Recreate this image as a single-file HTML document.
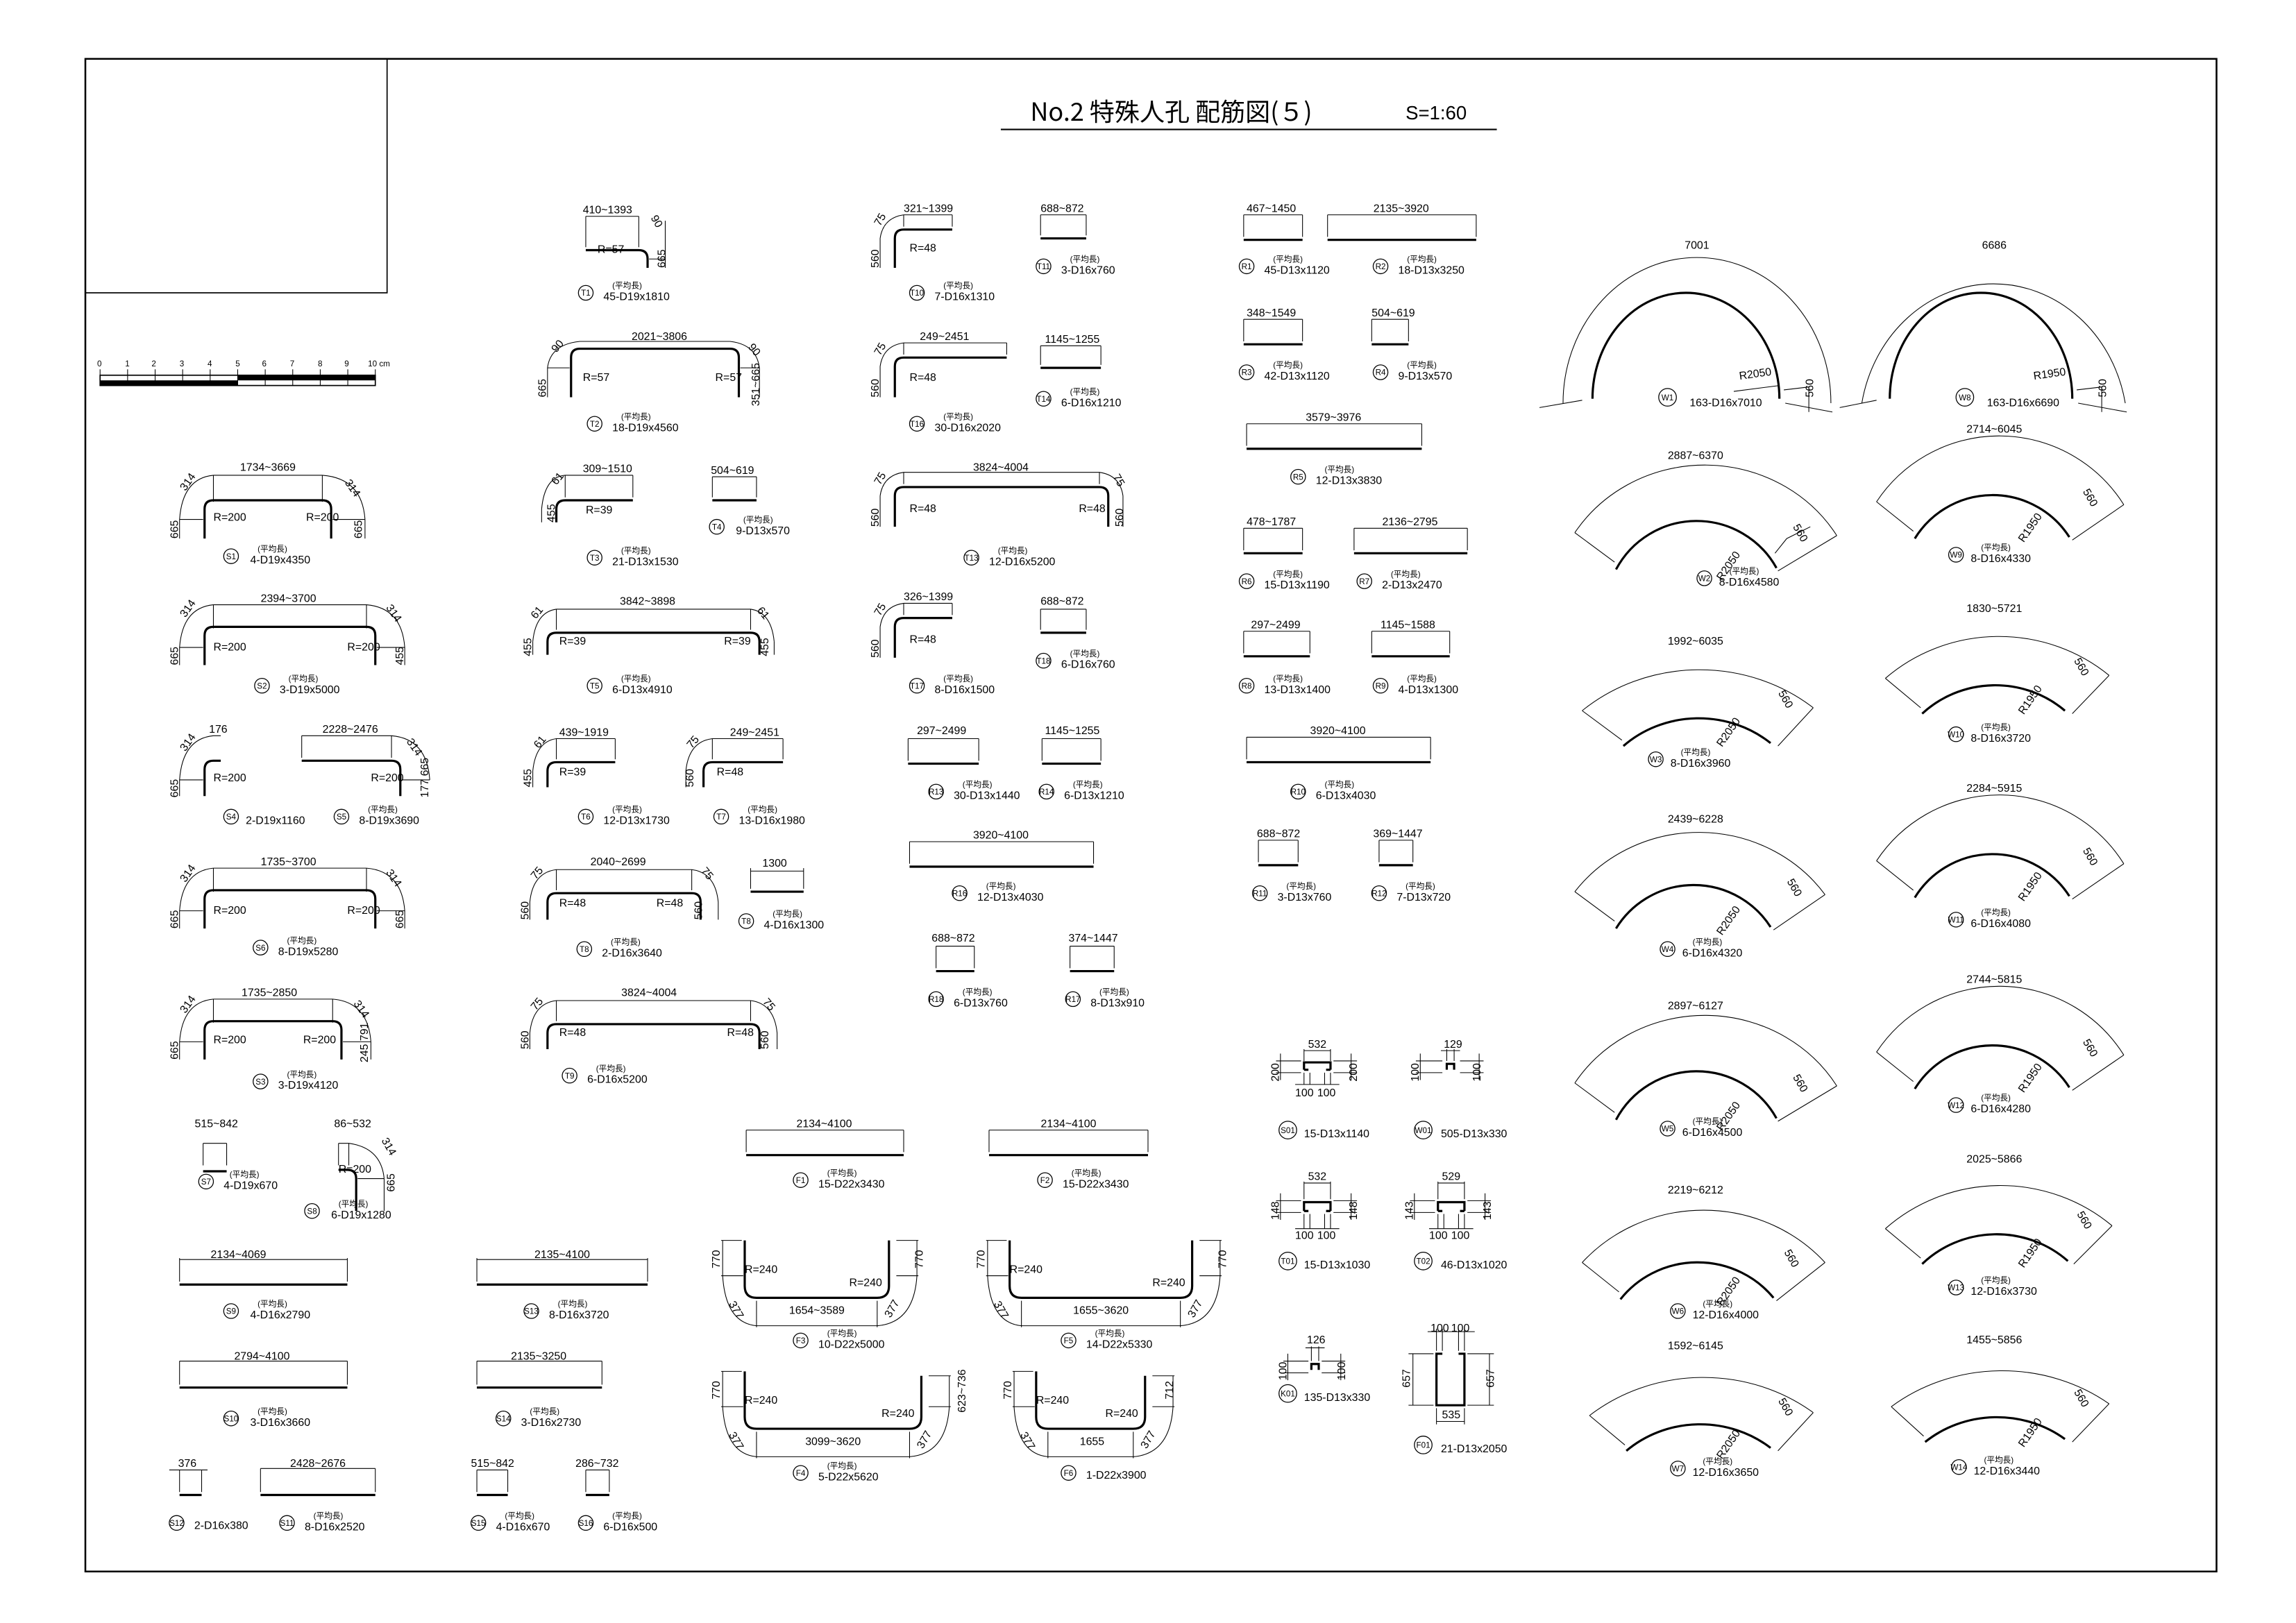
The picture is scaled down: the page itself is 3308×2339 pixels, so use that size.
<!DOCTYPE html>
<html><head><meta charset="utf-8">
<style>
html,body{margin:0;padding:0;background:#fff}
svg{display:block}
.b{fill:none;stroke:#000;stroke-width:1.5}
.d{fill:none;stroke:#000;stroke-width:0.5}
text{font-family:"Liberation Sans Narrow","Liberation Sans","Noto Sans CJK JP",sans-serif;font-size:7.5px;fill:#000}
.s{font-size:5.5px}
.m{font-size:5.5px;text-anchor:middle}
.c{text-anchor:middle}
</style></head><body>
<svg width="3308" height="2339" viewBox="0 0 1560 1103" preserveAspectRatio="none" xmlns="http://www.w3.org/2000/svg">
<rect x="0" y="0" width="1560" height="1103" fill="#fff"/>
<rect x="58" y="40" width="1448" height="1028" fill="none" stroke="#000" stroke-width="1.2"/>
<rect x="58" y="40" width="205" height="159" fill="none" stroke="#000" stroke-width="0.8"/>
<text x="700" y="82" style="font-size:17px;font-family:'Liberation Sans Narrow','Noto Sans CJK JP',sans-serif">No.2 特殊人孔 配筋図(５)</text>
<text x="955" y="81" style="font-size:13px">S=1:60</text>
<line x1="680" y1="88" x2="1017" y2="88" stroke="#000" stroke-width="1"/>
<g>
<rect x="68" y="255" width="187" height="7" fill="none" stroke="#000" stroke-width="0.8"/>
<rect x="68" y="258.5" width="93.5" height="3.5" fill="#000"/>
<rect x="161.5" y="255" width="93.5" height="3.5" fill="#000"/>
<path class="d" d="M68,251V262M86.7,251V262M105.4,251V262M124.1,251V262M142.8,251V262M161.5,251V262M180.2,251V262M198.9,251V262M217.6,251V262M236.3,251V262M255,251V262"/>
<text class="s" x="66" y="249">0</text><text class="s" x="85" y="249">1</text><text class="s" x="103" y="249">2</text><text class="s" x="122" y="249">3</text><text class="s" x="141" y="249">4</text><text class="s" x="160" y="249">5</text><text class="s" x="178" y="249">6</text><text class="s" x="197" y="249">7</text><text class="s" x="216" y="249">8</text><text class="s" x="234" y="249">9</text><text class="s" x="250" y="249">10 cm</text>
</g>

<g>
<path class="b" d="M139,366V346Q139,340 145,340H219Q225,340 225,346V366"/>
<path class="d" d="M145,323H219M145,323V341M219,323V341M122,353H138M122,366V353M226,353H248M248,353V366M122,353Q124,325 145,323M219,323Q246,325 248,353"/>
<text class="c" x="182" y="320">1734~3669</text>
<text x="126" y="334" transform="rotate(-55 126 334)">314</text>
<text x="234" y="328" transform="rotate(55 234 328)">314</text>
<text x="121" y="366" transform="rotate(-90 121 366)">665</text>
<text x="246" y="366" transform="rotate(-90 246 366)">665</text>
<text x="145" y="354">R=200</text><text x="208" y="354">R=200</text>
<circle cx="157" cy="378" r="5" fill="none" stroke="#000" stroke-width="0.6"/><text class="m" x="157" y="380">S1</text>
<text class="s" x="175" y="375">(平均長)</text><text x="170" y="383">4-D19x4350</text>

<path class="b" d="M139,452V432Q139,426 145,426H249Q255,426 255,432V452"/>
<path class="d" d="M145,411H249M145,411V427M249,411V427M122,440H138M122,452V440M256,440H275M275,440V452M122,440Q124,413 145,411M249,411Q273,413 275,440"/>
<text class="c" x="196" y="409">2394~3700</text>
<text x="126" y="420" transform="rotate(-55 126 420)">314</text>
<text x="262" y="413" transform="rotate(55 262 413)">314</text>
<text x="121" y="452" transform="rotate(-90 121 452)">665</text>
<text x="274" y="452" transform="rotate(-90 274 452)">455</text>
<text x="145" y="442">R=200</text><text x="236" y="442">R=200</text>
<circle cx="178" cy="466" r="5" fill="none" stroke="#000" stroke-width="0.6"/><text class="m" x="178" y="468">S2</text>
<text class="s" x="196" y="463">(平均長)</text><text x="190" y="471">3-D19x5000</text>

<path class="b" d="M139,541V523Q139,517 145,517H150"/>
<path class="d" d="M145,500H150M122,530H138M122,541V530M122,530Q124,502 145,500"/>
<text x="142" y="498">176</text>
<text x="126" y="511" transform="rotate(-55 126 511)">314</text>
<text x="121" y="542" transform="rotate(-90 121 542)">665</text>
<text x="145" y="531">R=200</text>
<circle cx="157" cy="555" r="5" fill="none" stroke="#000" stroke-width="0.6"/><text class="m" x="157" y="557">S4</text>
<text x="167" y="560">2-D19x1160</text>
<path class="b" d="M205,517H266Q272,517 272,523V541"/>
<path class="d" d="M205,500H266M205,500V515M266,500V515M273,530H292M266,500Q290,502 292,530"/>
<text class="c" x="238" y="498">2228~2476</text>
<text x="276" y="504" transform="rotate(55 276 504)">314</text>
<text x="291" y="542" transform="rotate(-90 291 542)">177 665</text>
<text x="252" y="531">R=200</text>
<circle cx="232" cy="555" r="5" fill="none" stroke="#000" stroke-width="0.6"/><text class="m" x="232" y="557">S5</text>
<text class="s" x="250" y="552">(平均長)</text><text x="244" y="560">8-D19x3690</text>

<path class="b" d="M139,631V611Q139,605 145,605H249Q255,605 255,611V631"/>
<path class="d" d="M145,590H249M145,590V606M249,590V606M122,619H138M122,631V619M256,619H275M275,619V631M122,619Q124,592 145,590M249,590Q273,592 275,619"/>
<text class="c" x="196" y="588">1735~3700</text>
<text x="126" y="600" transform="rotate(-55 126 600)">314</text>
<text x="262" y="593" transform="rotate(55 262 593)">314</text>
<text x="121" y="631" transform="rotate(-90 121 631)">665</text>
<text x="274" y="631" transform="rotate(-90 274 631)">665</text>
<text x="145" y="621">R=200</text><text x="236" y="621">R=200</text>
<circle cx="177" cy="644" r="5" fill="none" stroke="#000" stroke-width="0.6"/><text class="m" x="177" y="646">S6</text>
<text class="s" x="195" y="641">(平均長)</text><text x="189" y="649">8-D19x5280</text>

<path class="b" d="M139,720V700Q139,694 145,694H226Q232,694 232,700V720"/>
<path class="d" d="M145,679H226M145,679V695M226,679V695M122,708H138M122,720V708M233,708H252M252,708V720M122,708Q124,681 145,679M226,679Q250,681 252,708"/>
<text class="c" x="183" y="677">1735~2850</text>
<text x="126" y="689" transform="rotate(-55 126 689)">314</text>
<text x="240" y="682" transform="rotate(55 240 682)">314</text>
<text x="121" y="720" transform="rotate(-90 121 720)">665</text>
<text x="250" y="722" transform="rotate(-90 250 722)">245 791</text>
<text x="145" y="709">R=200</text><text x="206" y="709">R=200</text>
<circle cx="177" cy="735" r="5" fill="none" stroke="#000" stroke-width="0.6"/><text class="m" x="177" y="737">S3</text>
<text class="s" x="195" y="732">(平均長)</text><text x="189" y="740">3-D19x4120</text>

<path class="b" d="M138,796H154"/>
<path class="d" d="M138,777H154M138,777V792M154,777V792"/>
<text class="c" x="147" y="766">515~842</text>
<circle cx="140" cy="803" r="5" fill="none" stroke="#000" stroke-width="0.6"/><text class="m" x="140" y="805">S7</text>
<text class="s" x="156" y="800">(平均長)</text><text x="152" y="808">4-D19x670</text>
<path class="b" d="M230,795H236Q242,795 242,801V823"/>
<path class="d" d="M230,777H237M230,777V792M237,777V792M243,801H261M261,801V823M237,777Q259,780 261,801"/>
<text x="227" y="766">86~532</text>
<text x="259" y="775" transform="rotate(60 259 775)">314</text>
<text x="268" y="810" transform="rotate(-90 268 810)">665</text>
<text x="230" y="797">R=200</text>
<circle cx="212" cy="823" r="5" fill="none" stroke="#000" stroke-width="0.6"/><text class="m" x="212" y="825">S8</text>
<text class="s" x="230" y="820">(平均長)</text><text x="225" y="828">6-D19x1280</text>

<path class="b" d="M122,873H236"/>
<path class="d" d="M122,856H236M122,855V871M236,855V871"/>
<text class="c" x="162" y="855">2134~4069</text>
<circle cx="157" cy="891" r="5" fill="none" stroke="#000" stroke-width="0.6"/><text class="m" x="157" y="893">S9</text>
<text class="s" x="175" y="888">(平均長)</text><text x="170" y="896">4-D16x2790</text>
<path class="b" d="M122,943H236"/>
<path class="d" d="M122,925H236M122,925V941M236,925V941"/>
<text class="c" x="178" y="924">2794~4100</text>
<circle cx="157" cy="964" r="5" fill="none" stroke="#000" stroke-width="0.6"/><text class="m" x="157" y="966">S10</text>
<text class="s" x="175" y="961">(平均長)</text><text x="170" y="969">3-D16x3660</text>
<path class="b" d="M122,1016H137"/>
<path class="d" d="M122,999V1014M137,999V1014M115,999H141"/>
<text x="121" y="997">376</text>
<circle cx="120" cy="1035" r="5" fill="none" stroke="#000" stroke-width="0.6"/><text class="m" x="120" y="1037">S12</text>
<text x="132" y="1039">2-D16x380</text>
<path class="b" d="M177,1016H255"/>
<path class="d" d="M177,998H255M177,998V1014M255,998V1014"/>
<text class="c" x="216" y="997">2428~2676</text>
<circle cx="195" cy="1035" r="5" fill="none" stroke="#000" stroke-width="0.6"/><text class="m" x="195" y="1037">S11</text>
<text class="s" x="213" y="1032">(平均長)</text><text x="207" y="1040">8-D16x2520</text>
</g>

<g>
<path class="b" d="M398,170H434Q440,170 440,176V182"/>
<path class="d" d="M398,147H434M398,147V168M434,147V168M441,176H452M452,150V182"/>
<text x="396" y="145">410~1393</text>
<text x="442" y="148" transform="rotate(60 442 148)">90</text>
<text x="452" y="182" transform="rotate(-90 452 182)">665</text>
<text x="406" y="172">R=57</text>
<circle cx="398" cy="199" r="5" fill="none" stroke="#000" stroke-width="0.6"/><text class="m" x="398" y="201">T1</text>
<text class="s" x="416" y="196">(平均長)</text><text x="410" y="204">45-D19x1810</text>
<path class="b" d="M388,270V243Q388,237 394,237H496Q502,237 502,243V270"/>
<path class="d" d="M394,232H496M372,250H387M372,270V250M503,250H516M516,250V270M372,250Q374,234 394,232M496,232Q514,234 516,250"/>
<text class="c" x="448" y="231">2021~3806</text>
<text x="378" y="240" transform="rotate(-50 378 240)">90</text><text x="508" y="236" transform="rotate(50 508 236)">90</text>
<text x="371" y="270" transform="rotate(-90 371 270)">665</text>
<text x="516" y="276" transform="rotate(-90 516 276)">351~665</text>
<text x="396" y="259">R=57</text><text x="486" y="259">R=57</text>
<circle cx="404" cy="288" r="5" fill="none" stroke="#000" stroke-width="0.6"/><text class="m" x="404" y="290">T2</text>
<text class="s" x="422" y="285">(平均長)</text><text x="416" y="293">18-D19x4560</text>
<path class="b" d="M378,355V346Q378,340 384,340H430"/>
<path class="d" d="M384,323H430M384,323V338M430,323V338M368,346V355M368,346Q370,324 384,323"/>
<text x="396" y="321">309~1510</text><text x="378" y="330" transform="rotate(-50 378 330)">61</text>
<text x="377" y="355" transform="rotate(-90 377 355)">455</text>
<text x="398" y="349">R=39</text>
<circle cx="404" cy="379" r="5" fill="none" stroke="#000" stroke-width="0.6"/><text class="m" x="404" y="381">T3</text>
<text class="s" x="422" y="376">(平均長)</text><text x="416" y="384">21-D13x1530</text>
<path class="b" d="M484,340H514"/>
<path class="d" d="M484,324V338M514,324V338M484,324H514"/>
<text x="483" y="322">504~619</text>
<circle cx="487" cy="358" r="5" fill="none" stroke="#000" stroke-width="0.6"/><text class="m" x="487" y="360">T4</text>
<text class="s" x="505" y="355">(平均長)</text><text x="500" y="363">9-D13x570</text>
<path class="b" d="M372,445V436Q372,430 378,430H510Q516,430 516,436V445"/>
<path class="d" d="M378,414H510M378,414V428M510,414V428M362,436V445M526,436V445M362,436Q364,416 378,414M510,414Q524,416 526,436"/>
<text class="c" x="440" y="411">3842~3898</text>
<text x="364" y="421" transform="rotate(-50 364 421)">61</text><text x="514" y="415" transform="rotate(50 514 415)">61</text>
<text x="361" y="446" transform="rotate(-90 361 446)">455</text><text x="522" y="446" transform="rotate(-90 522 446)">455</text>
<text x="380" y="438">R=39</text><text x="492" y="438">R=39</text>
<circle cx="404" cy="466" r="5" fill="none" stroke="#000" stroke-width="0.6"/><text class="m" x="404" y="468">T5</text>
<text class="s" x="422" y="463">(平均長)</text><text x="416" y="471">6-D13x4910</text>
<path class="b" d="M372,535V524Q372,518 378,518H418"/>
<path class="d" d="M378,502H418M378,502V516M418,502V516M362,524V535M362,524Q364,504 378,502"/>
<text x="380" y="500">439~1919</text><text x="366" y="509" transform="rotate(-50 366 509)">61</text>
<text x="361" y="535" transform="rotate(-90 361 535)">455</text>
<text x="380" y="527">R=39</text>
<circle cx="398" cy="555" r="5" fill="none" stroke="#000" stroke-width="0.6"/><text class="m" x="398" y="557">T6</text>
<text class="s" x="416" y="552">(平均長)</text><text x="410" y="560">12-D13x1730</text>
<path class="b" d="M478,535V524Q478,518 484,518H532"/>
<path class="d" d="M484,502H532M484,502V516M532,502V516M466,524V535M466,524Q468,504 484,502"/>
<text x="496" y="500">249~2451</text><text x="470" y="509" transform="rotate(-50 470 509)">75</text>
<text x="471" y="535" transform="rotate(-90 471 535)">560</text>
<text x="487" y="527">R=48</text>
<circle cx="490" cy="555" r="5" fill="none" stroke="#000" stroke-width="0.6"/><text class="m" x="490" y="557">T7</text>
<text class="s" x="508" y="552">(平均長)</text><text x="502" y="560">13-D16x1980</text>
<path class="b" d="M372,625V613Q372,607 378,607H470Q476,607 476,613V625"/>
<path class="d" d="M378,591H470M378,591V605M470,591V605M360,613V625M488,613V625M360,613Q362,593 378,591M470,591Q486,593 488,613"/>
<text class="c" x="420" y="588">2040~2699</text>
<text x="364" y="598" transform="rotate(-50 364 598)">75</text><text x="476" y="592" transform="rotate(50 476 592)">75</text>
<text x="359" y="625" transform="rotate(-90 359 625)">560</text><text x="477" y="625" transform="rotate(-90 477 625)">560</text>
<text x="380" y="616">R=48</text><text x="446" y="616">R=48</text>
<circle cx="397" cy="645" r="5" fill="none" stroke="#000" stroke-width="0.6"/><text class="m" x="397" y="647">T8</text>
<text class="s" x="415" y="642">(平均長)</text><text x="409" y="650">2-D16x3640</text>
<path class="b" d="M510,606H546"/>
<path class="d" d="M510,590V604M546,590V604M510,592H546"/>
<text x="518" y="589">1300</text>
<circle cx="507" cy="626" r="5" fill="none" stroke="#000" stroke-width="0.6"/><text class="m" x="507" y="628">T8</text>
<text class="s" x="525" y="623">(平均長)</text><text x="519" y="631">4-D16x1300</text>
<path class="b" d="M372,713V702Q372,696 378,696H510Q516,696 516,702V713"/>
<path class="d" d="M378,680H510M378,680V694M510,680V694M360,702V713M528,702V713M360,702Q362,682 378,680M510,680Q526,682 528,702"/>
<text class="c" x="441" y="677">3824~4004</text>
<text x="364" y="687" transform="rotate(-50 364 687)">75</text><text x="518" y="681" transform="rotate(50 518 681)">75</text>
<text x="359" y="713" transform="rotate(-90 359 713)">560</text><text x="522" y="713" transform="rotate(-90 522 713)">560</text>
<text x="380" y="704">R=48</text><text x="494" y="704">R=48</text>
<circle cx="387" cy="731" r="5" fill="none" stroke="#000" stroke-width="0.6"/><text class="m" x="387" y="733">T9</text>
<text class="s" x="405" y="728">(平均長)</text><text x="399" y="736">6-D16x5200</text>
<path class="b" d="M324,873H440"/>
<path class="d" d="M324,856H440M324,855V871M440,855V871"/>
<text class="c" x="382" y="855">2135~4100</text>
<circle cx="361" cy="891" r="5" fill="none" stroke="#000" stroke-width="0.6"/><text class="m" x="361" y="893">S13</text>
<text class="s" x="379" y="888">(平均長)</text><text x="373" y="896">8-D16x3720</text>
<path class="b" d="M324,943H409"/>
<path class="d" d="M324,925H409M324,925V941M409,925V941"/>
<text class="c" x="366" y="924">2135~3250</text>
<circle cx="342" cy="964" r="5" fill="none" stroke="#000" stroke-width="0.6"/><text class="m" x="342" y="966">S14</text>
<text class="s" x="360" y="961">(平均長)</text><text x="354" y="969">3-D16x2730</text>
<path class="b" d="M324,1016H345M398,1016H414"/>
<path class="d" d="M324,999H345M324,999V1014M345,999V1014M398,999H414M398,999V1014M414,999V1014"/>
<text x="320" y="997">515~842</text><text x="391" y="997">286~732</text>
<circle cx="325" cy="1035" r="5" fill="none" stroke="#000" stroke-width="0.6"/><text class="m" x="325" y="1037">S15</text>
<text class="s" x="343" y="1032">(平均長)</text><text x="337" y="1040">4-D16x670</text>
<circle cx="398" cy="1035" r="5" fill="none" stroke="#000" stroke-width="0.6"/><text class="m" x="398" y="1037">S16</text>
<text class="s" x="416" y="1032">(平均長)</text><text x="410" y="1040">6-D16x500</text>
</g>

<g>
<path class="b" d="M608,182V162Q608,156 614,156H647"/>
<path class="d" d="M614,146H647M614,146V154M647,146V154M598,162V182M598,162Q600,148 614,146"/>
<text x="614" y="144">321~1399</text><text x="598" y="154" transform="rotate(-60 598 154)">75</text>
<text x="597" y="182" transform="rotate(-90 597 182)">560</text><text x="618" y="171">R=48</text>
<circle cx="623" cy="199" r="5" fill="none" stroke="#000" stroke-width="0.6"/><text class="m" x="623" y="201">T10</text>
<text class="s" x="641" y="196">(平均長)</text><text x="635" y="204">7-D16x1310</text>
<path class="b" d="M707,162H738"/><path class="d" d="M707,146H738M707,146V160M738,146V160"/>
<text x="707" y="144">688~872</text>
<circle cx="709" cy="181" r="5" fill="none" stroke="#000" stroke-width="0.6"/><text class="m" x="709" y="183">T11</text>
<text class="s" x="727" y="178">(平均長)</text><text x="721" y="186">3-D16x760</text>
<path class="b" d="M608,270V249Q608,243 614,243H684"/>
<path class="d" d="M614,233H684M614,233V241M684,233V241M598,249V270M598,249Q600,235 614,233"/>
<text x="625" y="231">249~2451</text><text x="598" y="242" transform="rotate(-60 598 242)">75</text>
<text x="597" y="270" transform="rotate(-90 597 270)">560</text><text x="618" y="259">R=48</text>
<circle cx="623" cy="288" r="5" fill="none" stroke="#000" stroke-width="0.6"/><text class="m" x="623" y="290">T16</text>
<text class="s" x="641" y="285">(平均長)</text><text x="635" y="293">30-D16x2020</text>
<path class="b" d="M707,250H748"/><path class="d" d="M707,235H748M707,235V248M748,235V248"/>
<text x="710" y="233">1145~1255</text>
<circle cx="709" cy="271" r="5" fill="none" stroke="#000" stroke-width="0.6"/><text class="m" x="709" y="273">T14</text>
<text class="s" x="727" y="268">(平均長)</text><text x="721" y="276">6-D16x1210</text>
<path class="b" d="M608,358V337Q608,331 614,331H747Q753,331 753,337V358"/>
<path class="d" d="M614,321H747M614,321V329M747,321V329M598,337V358M763,337V358M598,337Q600,323 614,321M747,321Q761,323 763,337"/>
<text class="c" x="680" y="320">3824~4004</text>
<text x="598" y="330" transform="rotate(-60 598 330)">75</text><text x="756" y="324" transform="rotate(60 756 324)">75</text>
<text x="597" y="358" transform="rotate(-90 597 358)">560</text><text x="763" y="358" transform="rotate(-90 763 358)">560</text>
<text x="618" y="348">R=48</text><text x="733" y="348">R=48</text>
<circle cx="660" cy="379" r="5" fill="none" stroke="#000" stroke-width="0.6"/><text class="m" x="660" y="381">T13</text>
<text class="s" x="678" y="376">(平均長)</text><text x="672" y="384">12-D16x5200</text>
<path class="b" d="M608,447V426Q608,420 614,420H647"/>
<path class="d" d="M614,410H647M614,410V418M647,410V418M598,426V447M598,426Q600,412 614,410"/>
<text x="614" y="408">326~1399</text><text x="598" y="419" transform="rotate(-60 598 419)">75</text>
<text x="597" y="447" transform="rotate(-90 597 447)">560</text><text x="618" y="437">R=48</text>
<circle cx="623" cy="466" r="5" fill="none" stroke="#000" stroke-width="0.6"/><text class="m" x="623" y="468">T17</text>
<text class="s" x="641" y="463">(平均長)</text><text x="635" y="471">8-D16x1500</text>
<path class="b" d="M707,430H738"/><path class="d" d="M707,414H738M707,414V428M738,414V428"/>
<text x="707" y="411">688~872</text>
<circle cx="709" cy="449" r="5" fill="none" stroke="#000" stroke-width="0.6"/><text class="m" x="709" y="451">T18</text>
<text class="s" x="727" y="446">(平均長)</text><text x="721" y="454">6-D16x760</text>
<path class="b" d="M617,519H665M708,519H748"/>
<path class="d" d="M617,502H665M617,502V517M665,502V517M708,502H748M708,502V517M748,502V517"/>
<text x="623" y="499">297~2499</text><text x="710" y="499">1145~1255</text>
<circle cx="636" cy="538" r="5" fill="none" stroke="#000" stroke-width="0.6"/><text class="m" x="636" y="540">R13</text>
<text class="s" x="654" y="535">(平均長)</text><text x="648" y="543">30-D13x1440</text>
<circle cx="711" cy="538" r="5" fill="none" stroke="#000" stroke-width="0.6"/><text class="m" x="711" y="540">R14</text>
<text class="s" x="729" y="535">(平均長)</text><text x="723" y="543">6-D13x1210</text>
<path class="b" d="M618,589H743"/>
<path class="d" d="M618,572H743M618,572V587M743,572V587"/>
<text class="c" x="680" y="570">3920~4100</text>
<circle cx="652" cy="607" r="5" fill="none" stroke="#000" stroke-width="0.6"/><text class="m" x="652" y="609">R16</text>
<text class="s" x="670" y="604">(平均長)</text><text x="664" y="612">12-D13x4030</text>
<path class="b" d="M636,660H662M727,660H757"/>
<path class="d" d="M636,643H662M636,643V658M662,643V658M727,643H757M727,643V658M757,643V658"/>
<text x="633" y="640">688~872</text><text x="726" y="640">374~1447</text>
<circle cx="636" cy="679" r="5" fill="none" stroke="#000" stroke-width="0.6"/><text class="m" x="636" y="681">R18</text>
<text class="s" x="654" y="676">(平均長)</text><text x="648" y="684">6-D13x760</text>
<circle cx="729" cy="679" r="5" fill="none" stroke="#000" stroke-width="0.6"/><text class="m" x="729" y="681">R17</text>
<text class="s" x="747" y="676">(平均長)</text><text x="741" y="684">8-D13x910</text>
</g>

<g>
<path class="b" d="M507,785H614M672,785H780"/>
<path class="d" d="M507,768H614M507,768V783M614,768V783M672,768H780M672,768V783M780,768V783"/>
<text class="c" x="560" y="766">2134~4100</text><text class="c" x="726" y="766">2134~4100</text>
<circle cx="544" cy="802" r="5" fill="none" stroke="#000" stroke-width="0.6"/><text class="m" x="544" y="804">F1</text>
<text class="s" x="562" y="799">(平均長)</text><text x="556" y="807">15-D22x3430</text>
<circle cx="710" cy="802" r="5" fill="none" stroke="#000" stroke-width="0.6"/><text class="m" x="710" y="804">F2</text>
<text class="s" x="728" y="799">(平均長)</text><text x="722" y="807">15-D22x3430</text>
<path class="b" d="M506,843V874Q506,882 514,882H596Q604,882 604,874V843"/>
<path class="d" d="M490,843H504M490,867H505M491,843V867M609,843H624M609,867H624M623,843V867M514,884V902M596,884V902M514,901H596M491,867Q493,899 514,901M596,901Q621,899 623,867"/>
<text x="489" y="862" transform="rotate(-90 489 862)">770</text><text x="627" y="862" transform="rotate(-90 627 862)">770</text>
<text x="506" y="865">R=240</text><text x="577" y="874">R=240</text>
<text class="c" x="555" y="893">1654~3589</text>
<text x="495" y="886" transform="rotate(60 495 886)">377</text><text x="605" y="896" transform="rotate(-60 605 896)">377</text>
<circle cx="544" cy="911" r="5" fill="none" stroke="#000" stroke-width="0.6"/><text class="m" x="544" y="913">F3</text>
<text class="s" x="562" y="908">(平均長)</text><text x="556" y="916">10-D22x5000</text>
<path class="b" d="M686,843V874Q686,882 694,882H802Q810,882 810,874V843"/>
<path class="d" d="M670,843H684M670,867H685M671,843V867M815,843H830M815,867H830M829,843V867M694,884V902M802,884V902M694,901H802M671,867Q673,899 694,901M802,901Q827,899 829,867"/>
<text x="669" y="862" transform="rotate(-90 669 862)">770</text><text x="833" y="862" transform="rotate(-90 833 862)">770</text>
<text x="686" y="865">R=240</text><text x="783" y="874">R=240</text>
<text class="c" x="748" y="893">1655~3620</text>
<text x="675" y="886" transform="rotate(60 675 886)">377</text><text x="811" y="896" transform="rotate(-60 811 896)">377</text>
<circle cx="726" cy="911" r="5" fill="none" stroke="#000" stroke-width="0.6"/><text class="m" x="726" y="913">F5</text>
<text class="s" x="744" y="908">(平均長)</text><text x="738" y="916">14-D22x5330</text>
<path class="b" d="M506,932V963Q506,971 514,971H618Q626,971 626,963V935"/>
<path class="d" d="M490,932H504M490,956H505M491,932V956M631,935H646M631,956H646M645,935V956M514,973V991M618,973V991M514,990H618M491,956Q493,988 514,990M618,990Q643,988 645,956"/>
<text x="489" y="951" transform="rotate(-90 489 951)">770</text><text x="656" y="960" transform="rotate(-90 656 960)">623~736</text>
<text x="506" y="954">R=240</text><text x="599" y="963">R=240</text>
<text class="c" x="566" y="982">3099~3620</text>
<text x="495" y="975" transform="rotate(60 495 975)">377</text><text x="627" y="985" transform="rotate(-60 627 985)">377</text>
<circle cx="544" cy="1001" r="5" fill="none" stroke="#000" stroke-width="0.6"/><text class="m" x="544" y="1003">F4</text>
<text class="s" x="562" y="998">(平均長)</text><text x="556" y="1006">5-D22x5620</text>
<path class="b" d="M704,932V963Q704,971 712,971H770Q778,971 778,963V935"/>
<path class="d" d="M688,932H702M688,956H703M689,932V956M783,935H798M783,956H798M797,935V956M712,973V991M770,973V991M712,990H770M689,956Q691,988 712,990M770,990Q795,988 797,956"/>
<text x="687" y="951" transform="rotate(-90 687 951)">770</text><text x="797" y="951" transform="rotate(-90 797 951)">712</text>
<text x="704" y="954">R=240</text><text x="751" y="963">R=240</text>
<text class="c" x="742" y="982">1655</text>
<text x="693" y="975" transform="rotate(60 693 975)">377</text><text x="779" y="985" transform="rotate(-60 779 985)">377</text>
<circle cx="726" cy="1001" r="5" fill="none" stroke="#000" stroke-width="0.6"/><text class="m" x="726" y="1003">F6</text>
<text x="738" y="1005">1-D22x3900</text>
</g>

<g>
<path class="b" d="M845,163H885M902,163H1003"/>
<path class="d" d="M845,146H885M845,146V161M885,146V161M902,146H1003M902,146V161M1003,146V161"/>
<text x="847" y="144">467~1450</text><text class="c" x="952" y="144">2135~3920</text>
<circle cx="847" cy="181" r="5" fill="none" stroke="#000" stroke-width="0.6"/><text class="m" x="847" y="183">R1</text>
<text class="s" x="865" y="178">(平均長)</text><text x="859" y="186">45-D13x1120</text>
<circle cx="938" cy="181" r="5" fill="none" stroke="#000" stroke-width="0.6"/><text class="m" x="938" y="183">R2</text>
<text class="s" x="956" y="178">(平均長)</text><text x="950" y="186">18-D13x3250</text>
<path class="b" d="M845,234H885M932,234H957"/>
<path class="d" d="M845,217H885M845,217V232M885,217V232M932,217H957M932,217V232M957,217V232"/>
<text x="847" y="215">348~1549</text><text x="932" y="215">504~619</text>
<circle cx="847" cy="253" r="5" fill="none" stroke="#000" stroke-width="0.6"/><text class="m" x="847" y="255">R3</text>
<text class="s" x="865" y="250">(平均長)</text><text x="859" y="258">42-D13x1120</text>
<circle cx="938" cy="253" r="5" fill="none" stroke="#000" stroke-width="0.6"/><text class="m" x="938" y="255">R4</text>
<text class="s" x="956" y="250">(平均長)</text><text x="950" y="258">9-D13x570</text>
<path class="b" d="M847,305H966"/>
<path class="d" d="M847,288H966M847,288V303M966,288V303"/>
<text class="c" x="906" y="286">3579~3976</text>
<circle cx="882" cy="324" r="5" fill="none" stroke="#000" stroke-width="0.6"/><text class="m" x="882" y="326">R5</text>
<text class="s" x="900" y="321">(平均長)</text><text x="894" y="329">12-D13x3830</text>
<path class="b" d="M845,376H885M920,376H997"/>
<path class="d" d="M845,359H885M845,359V374M885,359V374M920,359H997M920,359V374M997,359V374"/>
<text x="847" y="357">478~1787</text><text class="c" x="958" y="357">2136~2795</text>
<circle cx="847" cy="395" r="5" fill="none" stroke="#000" stroke-width="0.6"/><text class="m" x="847" y="397">R6</text>
<text class="s" x="865" y="392">(平均長)</text><text x="859" y="400">15-D13x1190</text>
<circle cx="927" cy="395" r="5" fill="none" stroke="#000" stroke-width="0.6"/><text class="m" x="927" y="397">R7</text>
<text class="s" x="945" y="392">(平均長)</text><text x="939" y="400">2-D13x2470</text>
<path class="b" d="M845,446H890M932,446H985"/>
<path class="d" d="M845,429H890M845,429V444M890,429V444M932,429H985M932,429V444M985,429V444"/>
<text x="850" y="427">297~2499</text><text x="938" y="427">1145~1588</text>
<circle cx="847" cy="466" r="5" fill="none" stroke="#000" stroke-width="0.6"/><text class="m" x="847" y="468">R8</text>
<text class="s" x="865" y="463">(平均長)</text><text x="859" y="471">13-D13x1400</text>
<circle cx="938" cy="466" r="5" fill="none" stroke="#000" stroke-width="0.6"/><text class="m" x="938" y="468">R9</text>
<text class="s" x="956" y="463">(平均長)</text><text x="950" y="471">4-D13x1300</text>
<path class="b" d="M847,518H972"/>
<path class="d" d="M847,501H972M847,501V516M972,501V516"/>
<text class="c" x="909" y="499">3920~4100</text>
<circle cx="882" cy="538" r="5" fill="none" stroke="#000" stroke-width="0.6"/><text class="m" x="882" y="540">R10</text>
<text class="s" x="900" y="535">(平均長)</text><text x="894" y="543">6-D13x4030</text>
<path class="b" d="M855,588H882M937,588H960"/>
<path class="d" d="M855,571H882M855,571V586M882,571V586M937,571H960M937,571V586M960,571V586"/>
<text x="854" y="569">688~872</text><text x="933" y="569">369~1447</text>
<circle cx="856" cy="607" r="5" fill="none" stroke="#000" stroke-width="0.6"/><text class="m" x="856" y="609">R11</text>
<text class="s" x="874" y="604">(平均長)</text><text x="868" y="612">3-D13x760</text>
<circle cx="937" cy="607" r="5" fill="none" stroke="#000" stroke-width="0.6"/><text class="m" x="937" y="609">R12</text>
<text class="s" x="955" y="604">(平均長)</text><text x="949" y="612">7-D13x720</text>
</g>

<g>
<path class="b" d="M886,727V722H904V727M886,727H889M904,727H901"/>
<path class="d" d="M886,713V721M904,713V721M886,714H904M867,721H884M867,729H884M906,721H922M906,729H922M870,716V734M918,716V734M886,729V737M890,729V737M900,729V737M904,729V737M880,737H910"/>
<text class="c" x="895" y="712">532</text>
<text x="869" y="735" transform="rotate(-90 869 735)">200</text><text x="922" y="735" transform="rotate(-90 922 735)">200</text>
<text x="880" y="745">100</text><text x="895" y="745">100</text>
<circle cx="875" cy="768" r="6" fill="none" stroke="#000" stroke-width="0.6"/><text class="m" x="875" y="770">S01</text>
<text x="886" y="773">15-D13x1140</text>
<path class="b" d="M983,727V723H988V727"/>
<path class="d" d="M983,713V721M988,713V721M979,714H992M962,721H980M962,729H980M992,721H1008M992,729H1008M965,716V734M1005,716V734"/>
<text x="981" y="712">129</text>
<text x="964" y="735" transform="rotate(-90 964 735)">100</text><text x="1006" y="735" transform="rotate(-90 1006 735)">100</text>
<circle cx="967" cy="768" r="6" fill="none" stroke="#000" stroke-width="0.6"/><text class="m" x="967" y="770">W01</text>
<text x="979" y="773">505-D13x330</text>
<path class="b" d="M886,823V817H904V823M886,823H889M904,823H901"/>
<path class="d" d="M886,803V815M904,803V815M886,804H904M867,816H884M867,824H884M906,816H922M906,824H922M870,811V829M918,811V829M886,825V835M890,825V835M900,825V835M904,825V835M880,835H910"/>
<text class="c" x="895" y="802">532</text>
<text x="869" y="829" transform="rotate(-90 869 829)">148</text><text x="922" y="829" transform="rotate(-90 922 829)">148</text>
<text x="880" y="842">100</text><text x="895" y="842">100</text>
<circle cx="875" cy="857" r="6" fill="none" stroke="#000" stroke-width="0.6"/><text class="m" x="875" y="859">T01</text>
<text x="886" y="862">15-D13x1030</text>
<path class="b" d="M977,823V817H995V823M977,823H980M995,823H992"/>
<path class="d" d="M977,803V815M995,803V815M977,804H995M958,816H975M958,824H975M997,816H1013M997,824H1013M961,811V829M1009,811V829M977,825V835M981,825V835M991,825V835M995,825V835M971,835H1001"/>
<text class="c" x="986" y="802">529</text>
<text x="960" y="829" transform="rotate(-90 960 829)">143</text><text x="1013" y="829" transform="rotate(-90 1013 829)">143</text>
<text x="971" y="842">100</text><text x="986" y="842">100</text>
<circle cx="967" cy="857" r="6" fill="none" stroke="#000" stroke-width="0.6"/><text class="m" x="967" y="859">T02</text>
<text x="979" y="862">46-D13x1020</text>
<path class="b" d="M891,931V927H896V931"/>
<path class="d" d="M891,915V925M896,915V925M887,916H900M872,925H889M872,933H889M898,925H914M898,933H914M875,920V938M911,920V938"/>
<text x="888" y="913">126</text>
<text x="874" y="938" transform="rotate(-90 874 938)">100</text><text x="914" y="938" transform="rotate(-90 914 938)">100</text>
<circle cx="875" cy="947" r="6" fill="none" stroke="#000" stroke-width="0.6"/><text class="m" x="875" y="949">K01</text>
<text x="886" y="952">135-D13x330</text>
<path class="b" d="M980,920H976V955H995V920H991"/>
<path class="d" d="M976,903V918M980,903V918M991,903V918M995,903V918M970,905H1002M957,920H974M957,955H974M997,920H1015M997,955H1015M960,920V955M1012,920V955M976,957V968M995,957V968M976,966H995"/>
<text x="972" y="905">100</text><text x="986" y="905">100</text>
<text x="958" y="943" transform="rotate(-90 958 943)">657</text><text x="1015" y="943" transform="rotate(-90 1015 943)">657</text>
<text class="c" x="986" y="964">535</text>
<circle cx="967" cy="982" r="6" fill="none" stroke="#000" stroke-width="0.6"/><text class="m" x="967" y="984">F01</text>
<text x="979" y="987">21-D13x2050</text>
</g>

<g>
<path class="d" d="M1062,274A91,99 0 0 1 1244,274"/>
<path class="b" d="M1082,271A63.5,72 0 0 1 1209,271"/>
<path class="d" d="M1046,277L1075,272M1212,265L1229,263M1213,274L1245,280M1229,263V280M1178,266L1209,262"/>
<text class="c" x="1153" y="169">7001</text>
<text x="1182" y="258" transform="rotate(-8 1182 258)">R2050</text>
<text x="1232" y="270" transform="rotate(-90 1232 270)">560</text>
<circle cx="1133" cy="270" r="6" fill="none" stroke="#000" stroke-width="0.6"/><text class="m" x="1133" y="272">W1</text>
<text x="1148" y="276">163-D16x7010</text>
<path class="d" d="M1265,274A91,99 0 0 1 1444,274"/>
<path class="b" d="M1284,271A62,72 0 0 1 1408,271"/>
<path class="d" d="M1250,277L1275,272M1411,265L1428,263M1412,274L1445,280M1428,263V280"/>
<text class="c" x="1355" y="169">6686</text>
<text x="1382" y="258" transform="rotate(-8 1382 258)">R1950</text>
<text x="1431" y="270" transform="rotate(-90 1431 270)">560</text>
<circle cx="1335" cy="270" r="6" fill="none" stroke="#000" stroke-width="0.6"/><text class="m" x="1335" y="272">W8</text>
<text x="1350" y="276">163-D16x6690</text>
</g>

<g>
<g>
<path class="d" d="M1070,362A105,100 0 0 1 1248,364"/>
<path class="b" d="M1098,387A62,62 0 0 1 1207,386"/>
<path class="d" d="M1070,362L1097,382M1206,376L1214,366M1208,388L1248,364M1214,366L1230,358"/>
<text class="c" x="1152" y="312">2887~6370</text>
<text x="1170" y="395" transform="rotate(-55 1170 395)">R2050</text>
<text x="1218" y="358" transform="rotate(60 1218 358)">560</text>
<circle cx="1158" cy="393" r="5" fill="none" stroke="#000" stroke-width="0.6"/><text class="m" x="1158" y="395">W2</text>
<text class="s" x="1175" y="390">(平均長)</text><text x="1168" y="398">8-D16x4580</text>
</g>
<g transform="translate(0,123)">
<path class="d" d="M1075,360A120,110 0 0 1 1232,358"/>
<path class="b" d="M1103,384A75,70 0 0 1 1203,382"/>
<path class="d" d="M1075,360L1102,380M1208,384L1232,358"/>
<text class="c" x="1152" y="315">1992~6035</text>
<text x="1170" y="385" transform="rotate(-55 1170 385)">R2050</text>
<text x="1208" y="348" transform="rotate(60 1208 348)">560</text>
<circle cx="1125" cy="393" r="5" fill="none" stroke="#000" stroke-width="0.6"/><text class="m" x="1125" y="395">W3</text>
<text class="s" x="1142" y="390">(平均長)</text><text x="1135" y="398">8-D16x3960</text>
</g>
<g transform="translate(0,244)">
<path class="d" d="M1070,362A105,100 0 0 1 1240,364"/>
<path class="b" d="M1098,387A62,62 0 0 1 1203,386"/>
<path class="d" d="M1070,362L1097,382M1205,388L1240,364"/>
<text class="c" x="1152" y="315">2439~6228</text>
<text x="1170" y="392" transform="rotate(-55 1170 392)">R2050</text>
<text x="1214" y="355" transform="rotate(60 1214 355)">560</text>
<circle cx="1133" cy="401" r="5" fill="none" stroke="#000" stroke-width="0.6"/><text class="m" x="1133" y="403">W4</text>
<text class="s" x="1150" y="398">(平均長)</text><text x="1143" y="406">6-D16x4320</text>
</g>
<g transform="translate(0,374)">
<path class="d" d="M1070,362A105,100 0 0 1 1248,364"/>
<path class="b" d="M1098,387A62,62 0 0 1 1207,386"/>
<path class="d" d="M1070,362L1097,382M1208,388L1248,364"/>
<text class="c" x="1152" y="312">2897~6127</text>
<text x="1170" y="395" transform="rotate(-55 1170 395)">R2050</text>
<text x="1218" y="358" transform="rotate(60 1218 358)">560</text>
<circle cx="1133" cy="393" r="5" fill="none" stroke="#000" stroke-width="0.6"/><text class="m" x="1133" y="395">W5</text>
<text class="s" x="1150" y="390">(平均長)</text><text x="1143" y="398">6-D16x4500</text>
</g>
<g transform="translate(0,496)">
<path class="d" d="M1075,362A110,105 0 0 1 1240,362"/>
<path class="b" d="M1101,387A66,64 0 0 1 1205,386"/>
<path class="d" d="M1075,362L1100,382M1207,388L1240,362"/>
<text class="c" x="1152" y="315">2219~6212</text>
<text x="1170" y="392" transform="rotate(-55 1170 392)">R2050</text>
<text x="1212" y="355" transform="rotate(60 1212 355)">560</text>
<circle cx="1140" cy="395" r="5" fill="none" stroke="#000" stroke-width="0.6"/><text class="m" x="1140" y="397">W6</text>
<text class="s" x="1157" y="392">(平均長)</text><text x="1150" y="400">12-D16x4000</text>
</g>
<g transform="translate(0,602)">
<path class="d" d="M1080,360A120,110 0 0 1 1232,358"/>
<path class="b" d="M1105,384A75,70 0 0 1 1203,382"/>
<path class="d" d="M1080,360L1104,380M1208,384L1232,358"/>
<text class="c" x="1152" y="315">1592~6145</text>
<text x="1170" y="390" transform="rotate(-55 1170 390)">R2050</text>
<text x="1208" y="350" transform="rotate(60 1208 350)">560</text>
<circle cx="1140" cy="396" r="5" fill="none" stroke="#000" stroke-width="0.6"/><text class="m" x="1140" y="398">W7</text>
<text class="s" x="1157" y="393">(平均長)</text><text x="1150" y="401">12-D16x3650</text>
</g>

<g transform="translate(203,-21)">
<path class="d" d="M1072,362A100,100 0 0 1 1240,364"/>
<path class="b" d="M1098,387A62,62 0 0 1 1203,386"/>
<path class="d" d="M1072,362L1097,382M1205,388L1240,364"/>
<text class="c" x="1152" y="315">2714~6045</text>
<text x="1172" y="390" transform="rotate(-55 1172 390)">R1950</text>
<text x="1212" y="355" transform="rotate(60 1212 355)">560</text>
<circle cx="1126" cy="398" r="5" fill="none" stroke="#000" stroke-width="0.6"/><text class="m" x="1126" y="400">W9</text>
<text class="s" x="1143" y="395">(平均長)</text><text x="1136" y="403">8-D16x4330</text>
</g>
<g transform="translate(203,101)">
<path class="d" d="M1078,360A115,110 0 0 1 1230,358"/>
<path class="b" d="M1103,384A72,70 0 0 1 1200,382"/>
<path class="d" d="M1078,360L1102,380M1205,384L1230,358"/>
<text class="c" x="1152" y="315">1830~5721</text>
<text x="1172" y="385" transform="rotate(-55 1172 385)">R1950</text>
<text x="1206" y="348" transform="rotate(60 1206 348)">560</text>
<circle cx="1126" cy="398" r="5" fill="none" stroke="#000" stroke-width="0.6"/><text class="m" x="1126" y="400">W10</text>
<text class="s" x="1143" y="395">(平均長)</text><text x="1136" y="403">8-D16x3720</text>
</g>
<g transform="translate(203,223)">
<path class="d" d="M1072,362A100,100 0 0 1 1240,364"/>
<path class="b" d="M1098,387A62,62 0 0 1 1203,386"/>
<path class="d" d="M1072,362L1097,382M1205,388L1240,364"/>
<text class="c" x="1152" y="315">2284~5915</text>
<text x="1172" y="390" transform="rotate(-55 1172 390)">R1950</text>
<text x="1212" y="355" transform="rotate(60 1212 355)">560</text>
<circle cx="1126" cy="402" r="5" fill="none" stroke="#000" stroke-width="0.6"/><text class="m" x="1126" y="404">W11</text>
<text class="s" x="1143" y="399">(平均長)</text><text x="1136" y="407">6-D16x4080</text>
</g>
<g transform="translate(203,353)">
<path class="d" d="M1072,362A100,100 0 0 1 1240,364"/>
<path class="b" d="M1098,387A62,62 0 0 1 1203,386"/>
<path class="d" d="M1072,362L1097,382M1205,388L1240,364"/>
<text class="c" x="1152" y="315">2744~5815</text>
<text x="1172" y="390" transform="rotate(-55 1172 390)">R1950</text>
<text x="1212" y="355" transform="rotate(60 1212 355)">560</text>
<circle cx="1126" cy="398" r="5" fill="none" stroke="#000" stroke-width="0.6"/><text class="m" x="1126" y="400">W12</text>
<text class="s" x="1143" y="395">(平均長)</text><text x="1136" y="403">6-D16x4280</text>
</g>
<g transform="translate(203,475)">
<path class="d" d="M1078,360A115,110 0 0 1 1232,358"/>
<path class="b" d="M1103,384A72,70 0 0 1 1202,382"/>
<path class="d" d="M1078,360L1102,380M1206,384L1232,358"/>
<text class="c" x="1152" y="315">2025~5866</text>
<text x="1172" y="387" transform="rotate(-55 1172 387)">R1950</text>
<text x="1208" y="350" transform="rotate(60 1208 350)">560</text>
<circle cx="1126" cy="400" r="5" fill="none" stroke="#000" stroke-width="0.6"/><text class="m" x="1126" y="402">W13</text>
<text class="s" x="1143" y="397">(平均長)</text><text x="1136" y="405">12-D16x3730</text>
</g>
<g transform="translate(203,596)">
<path class="d" d="M1082,360A120,110 0 0 1 1230,358"/>
<path class="b" d="M1105,384A75,70 0 0 1 1200,382"/>
<path class="d" d="M1082,360L1104,380M1205,384L1230,358"/>
<text class="c" x="1152" y="317">1455~5856</text>
<text x="1172" y="388" transform="rotate(-55 1172 388)">R1950</text>
<text x="1206" y="350" transform="rotate(60 1206 350)">560</text>
<circle cx="1128" cy="401" r="5" fill="none" stroke="#000" stroke-width="0.6"/><text class="m" x="1128" y="403">W14</text>
<text class="s" x="1145" y="398">(平均長)</text><text x="1138" y="406">12-D16x3440</text>
</g>
</g>
</svg>
</body></html>
